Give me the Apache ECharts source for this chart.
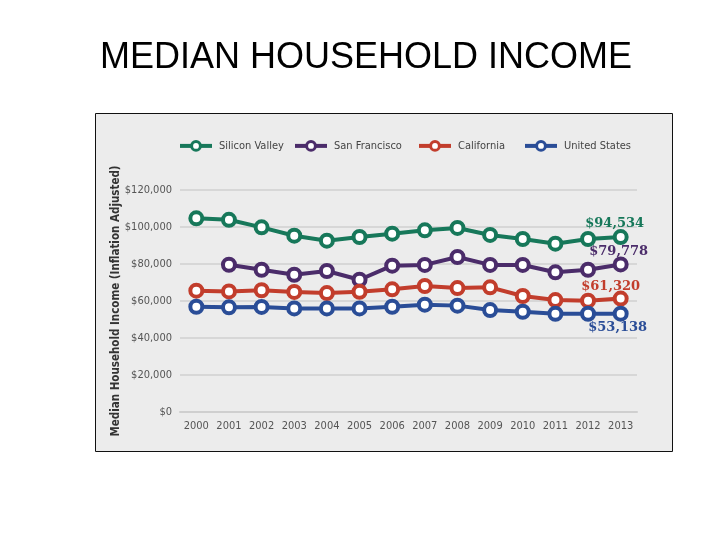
<!DOCTYPE html>
<html><head><meta charset="utf-8">
<script src="https://cdn.jsdelivr.net/npm/echarts@6/dist/echarts.min.js"></script>
<style>html,body{margin:0;padding:0;background:#fff}#c{width:720px;height:540px}</style>
</head><body><div id="c"></div>
<script>
const years = ['2000','2001','2002','2003','2004','2005','2006','2007','2008','2009','2010','2011','2012','2013'];
const siliconValley = [104700, 103900, 99800, 95300, 92600, 94600, 96400, 98200, 99500, 95700, 93500, 91000, 93500, 94534];
const sanFrancisco = [null, 79600, 76900, 74200, 76200, 71500, 79100, 79500, 83800, 79500, 79500, 75500, 76900, 79778];
const california = [65600, 65200, 65800, 64900, 64300, 65000, 66300, 68100, 67000, 67400, 62700, 60500, 60200, 61320];
const unitedStates = [56900, 56600, 56800, 56000, 56000, 56000, 56900, 58000, 57500, 55100, 54200, 53100, 53100, 53138];
const seriesNames = ['Silicon Valley', 'San Francisco', 'California', 'United States'];
const yTicks = [0, 20000, 40000, 60000, 80000, 100000, 120000];

const narrow = '"DejaVu Sans Condensed", "Liberation Sans Narrow", sans-serif';
const labelFont = '"DejaVu Serif", serif';
const colors = ['#17785a', '#4b2c6a', '#c23d2c', '#2a4d97'];

function mk(name, data, color, labelPos, labelOffset) {
  const d = data.map((v, i) => {
    if (i === data.length - 1) {
      return {value: v, label: {show: true, position: labelPos, offset: labelOffset,
        formatter: p => '$' + p.value.toLocaleString('en-US'),
        color: color, fontFamily: labelFont, fontWeight: 'bold', fontSize: 13}};
    }
    return v;
  });
  return {
    name, type: 'line', data: d, connectNulls: false,
    symbol: 'circle', symbolSize: 12,
    lineStyle: {color, width: 4},
    itemStyle: {color: '#fff', borderColor: color, borderWidth: 4},
    emphasis: {disabled: true}
  };
}

const legendLefts = [173, 288, 412, 518];
const legends = seriesNames.map((n, i) => ({
  top: 135, left: legendLefts[i], itemWidth: 32, itemHeight: 11, itemGap: 0,
  lineStyle: {width: 4},
  itemStyle: {borderWidth: 3},
  textStyle: {fontFamily: narrow, fontSize: 11, color: '#444', padding: [0, 0, 0, 2]},
  data: [n]
}));

const chart = echarts.init(document.getElementById('c'), null, {renderer: 'canvas'});
chart.setOption({
  animation: false,
  backgroundColor: '#fff',
  color: colors,
  title: {text: 'MEDIAN HOUSEHOLD INCOME', left: 95, top: 35,
    textStyle: {fontFamily: '"Liberation Sans", Arial, sans-serif', fontWeight: 'normal', fontSize: 36, color: '#000'}},
  graphic: [{type: 'rect', z: -10, shape: {x: 95.5, y: 113.5, width: 577, height: 338},
    style: {fill: '#ececec', stroke: '#111', lineWidth: 1}}],
  legend: legends,
  grid: {left: 180, right: 83, top: 190, bottom: 128},
  xAxis: {type: 'category', data: years, boundaryGap: true,
    axisLine: {lineStyle: {color: '#cfcfcf', width: 2}},
    axisTick: {inside: true, length: 5, lineStyle: {color: '#bbb'}},
    axisLabel: {interval: 0, fontFamily: narrow, fontSize: 11, color: '#555', margin: 9}},
  yAxis: {type: 'value', min: 0, max: 120000, interval: 20000,
    name: 'Median Household Income (Inflation Adjusted)', nameLocation: 'middle', nameGap: 58,
    nameMoveOverlap: false,
    nameTextStyle: {fontFamily: narrow, fontWeight: 'bold', fontSize: 11.5, color: '#333'},
    axisLine: {show: false}, axisTick: {show: false},
    splitLine: {lineStyle: {color: '#d7d7d7', width: 2}},
    axisLabel: {fontFamily: narrow, fontSize: 11, color: '#555', margin: 8,
      formatter: v => yTicks.includes(v) ? '$' + v.toLocaleString('en-US') : ''}},
  series: [
    mk(seriesNames[0], siliconValley, colors[0], 'top', [-6, 6]),
    mk(seriesNames[1], sanFrancisco, colors[1], 'top', [-2, 7]),
    mk(seriesNames[2], california, colors[2], 'top', [-10, 8]),
    mk(seriesNames[3], unitedStates, colors[3], 'bottom', [-3, -6])
  ]
});
</script></body></html>
